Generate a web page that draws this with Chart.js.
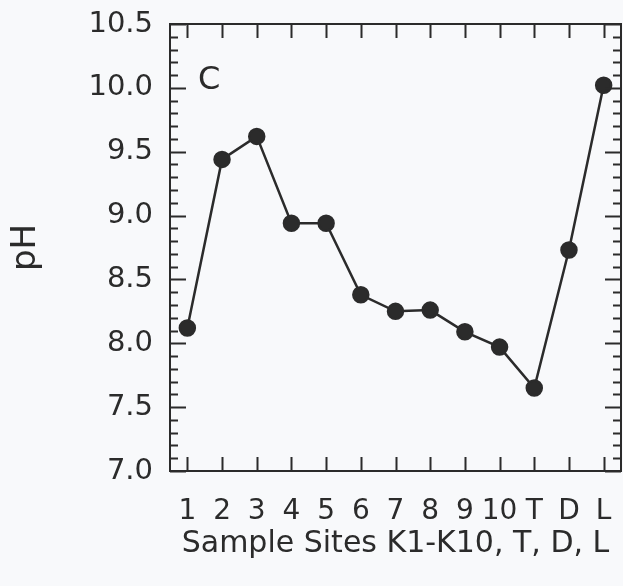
<!DOCTYPE html>
<html>
<head>
<meta charset="utf-8">
<script src="https://cdn.jsdelivr.net/npm/chart.js@4"></script>
<style>
  html, body { margin: 0; padding: 0; background: #f8f9fb; }
  canvas { display: block; }
</style>
</head>
<body>
<canvas id="phChart" width="623" height="586"></canvas>
<script>
const sites = ['1', '2', '3', '4', '5', '6', '7', '8', '9', '10', 'T', 'D', 'L'];
const phValues = [8.12, 9.44, 9.62, 8.94, 8.94, 8.38, 8.25, 8.26, 8.09, 7.97, 7.65, 8.73, 10.02];
const yMin = 7.0;
const yMax = 10.5;
const panelLabel = 'C';

const ink = '#2b2b2b';
const fontFamily = '"DejaVu Sans", Arial, sans-serif';

// frame on all four sides, ticks pointing inward, plus the panel letter
const frameTicks = {
    id: 'frameTicks',
    afterDraw(chart) {
        const ctx = chart.ctx;
        const area = chart.chartArea;
        const x = chart.scales.x;
        const y = chart.scales.y;
        ctx.save();
        ctx.strokeStyle = ink;
        ctx.lineWidth = 2;
        ctx.strokeRect(area.left, area.top, area.right - area.left, area.bottom - area.top);

        ctx.beginPath();
        for (let v = Math.round(yMin * 10); v <= Math.round(yMax * 10); v++) {
            const py = Math.round(y.getPixelForValue(v / 10)) + 0.5;
            const len = v % 5 === 0 ? 16 : 8;
            ctx.moveTo(area.left, py);
            ctx.lineTo(area.left + len, py);
            ctx.moveTo(area.right, py);
            ctx.lineTo(area.right - len, py);
        }
        sites.forEach((s, i) => {
            const px = Math.round(x.getPixelForValue(i)) + 0.5;
            ctx.moveTo(px, area.bottom);
            ctx.lineTo(px, area.bottom - 14);
            ctx.moveTo(px, area.top);
            ctx.lineTo(px, area.top + 14);
        });
        ctx.stroke();

        ctx.fillStyle = ink;
        ctx.font = '32px ' + fontFamily;
        ctx.textAlign = 'left';
        ctx.textBaseline = 'alphabetic';
        ctx.fillText(panelLabel, area.left + 28, area.top + 65);
        ctx.restore();
    }
};

const ctx = document.getElementById('phChart').getContext('2d');
new Chart(ctx, {
    type: 'line',
    data: {
        labels: sites,
        datasets: [{
            label: 'pH',
            data: phValues,
            borderColor: ink,
            borderWidth: 2.5,
            backgroundColor: ink,
            pointBackgroundColor: ink,
            pointBorderColor: ink,
            pointRadius: 7.5,
            fill: false,
            tension: 0
        }]
    },
    options: {
        responsive: false,
        animation: false,
        layout: {
            autoPadding: false,
            padding: { top: 24, right: 2, left: 0, bottom: 0 }
        },
        plugins: {
            legend: { display: false },
            tooltip: { enabled: false }
        },
        scales: {
            x: {
                type: 'category',
                offset: true,
                grid: { display: false, drawTicks: false },
                border: { display: false },
                afterFit: (scale) => {
                    scale.height = 115;
                    scale.paddingLeft = 0;
                    scale.paddingRight = 0;
                },
                ticks: {
                    color: ink,
                    padding: 24,
                    maxRotation: 0,
                    autoSkip: false,
                    font: { family: fontFamily, size: 28 }
                },
                title: {
                    display: true,
                    text: 'Sample Sites K1-K10, T, D, L',
                    color: ink,
                    padding: { top: 4, bottom: 24 },
                    font: { family: fontFamily, size: 30 }
                }
            },
            y: {
                min: yMin,
                max: yMax,
                grid: { display: false, drawTicks: false },
                border: { display: false },
                afterFit: (scale) => {
                    scale.width = 170;
                    scale.paddingTop = 0;
                    scale.paddingBottom = 0;
                },
                ticks: {
                    stepSize: 0.5,
                    color: ink,
                    padding: 17,
                    font: { family: fontFamily, size: 29 },
                    callback: (v) => Number(v).toFixed(1)
                },
                title: {
                    display: true,
                    text: 'pH',
                    color: ink,
                    padding: { top: 6, bottom: 0 },
                    font: { family: fontFamily, size: 34 }
                }
            }
        }
    },
    plugins: [frameTicks]
});
</script>
</body>
</html>
